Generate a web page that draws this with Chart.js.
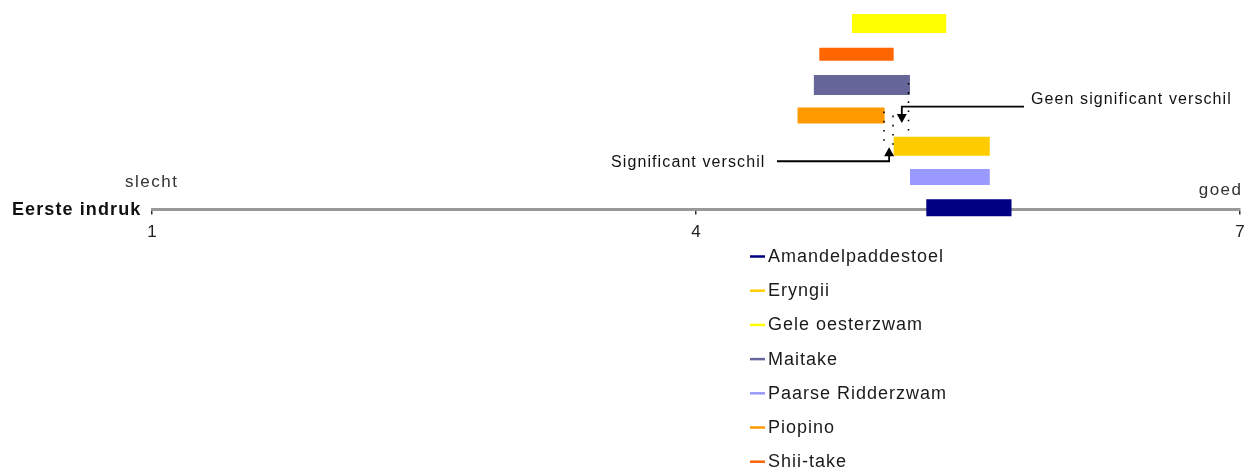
<!DOCTYPE html>
<html>
<head>
<meta charset="utf-8">
<script src="https://cdn.jsdelivr.net/npm/chart.js@4/dist/chart.umd.min.js"></script>
<style>
  html, body { margin: 0; padding: 0; background: #ffffff; }
  #wrap { width: 1250px; height: 475px; position: relative; }
</style>
</head>
<body>
<div id="wrap"><canvas id="c" width="1250" height="475"></canvas></div>
<script>
// ---- data ----
const seriesNames = ['Amandelpaddestoel', 'Eryngii', 'Gele oesterzwam', 'Maitake', 'Paarse Ridderzwam', 'Piopino', 'Shii-take'];
const lowValues  = [5.27, 5.09, 4.86, 4.65, 5.18, 4.56, 4.68];
const highValues = [5.74, 5.62, 5.38, 5.18, 5.62, 5.04, 5.09];
const rowIndex   = [1, 3, 7, 5, 2, 4, 6];
const axisTicks  = [1, 4, 7];
const axisTitle  = 'Eerste indruk';
const lowLabel   = 'slecht';
const highLabel  = 'goed';
const noteNotSig = 'Geen significant verschil';
const noteSig    = 'Significant verschil';

// ---- styles ----
const colors = ['#000080', '#FFCC00', '#FFFF00', '#666699', '#9999FF', '#FF9900', '#FF6600'];
const thickness = [17, 19, 19, 20, 16, 16, 13];
const FONT = "'Liberation Sans', Arial, sans-serif";

const datasets = seriesNames.map((name, i) => ({
  label: name,
  data: [{ x: lowValues[i], y: rowIndex[i] }, { x: highValues[i], y: rowIndex[i] }],
  borderColor: colors[i],
  backgroundColor: colors[i],
  borderWidth: thickness[i],
  borderCapStyle: 'butt',
  pointRadius: 0,
  pointHoverRadius: 0,
  tension: 0,
  clip: false,
  fill: false
}));

function spacedText(ctx, text, x, y, spacing, align) {
  ctx.save();
  ctx.letterSpacing = spacing + 'px';
  let w = ctx.measureText(text).width;
  let left = x;
  if (align === 'right') left = x - (w - spacing);
  ctx.textAlign = 'left';
  ctx.fillText(text, left, y);
  ctx.restore();
}

const decorPlugin = {
  id: 'decor',
  afterDraw(chart) {
    const ctx = chart.ctx;
    const xs = chart.scales.x, ys = chart.scales.y;
    const area = chart.chartArea;
    ctx.save();
    ctx.textBaseline = 'alphabetic';

    // axis title and end labels
    ctx.fillStyle = '#111';
    ctx.font = 'bold 18px ' + FONT;
    spacedText(ctx, axisTitle, 12, area.bottom + 5.5, 1.1, 'left');
    ctx.fillStyle = '#333';
    ctx.font = '17px ' + FONT;
    spacedText(ctx, lowLabel, 125, area.bottom - 22.5, 1.5, 'left');
    spacedText(ctx, highLabel, area.right + 1, area.bottom - 14.5, 1.5, 'right');

    // dotted guide lines
    const iM = seriesNames.indexOf('Maitake');
    const iP = seriesNames.indexOf('Piopino');
    const iE = seriesNames.indexOf('Eryngii');
    const mHi = xs.getPixelForValue(highValues[iM]);
    const pHi = xs.getPixelForValue(highValues[iP]);
    const eLo = xs.getPixelForValue(lowValues[iE]);
    const yM = ys.getPixelForValue(rowIndex[iM]);
    const yP = ys.getPixelForValue(rowIndex[iP]);
    const yE = ys.getPixelForValue(rowIndex[iE]);

    ctx.strokeStyle = '#000';
    ctx.lineWidth = 1.6;
    ctx.setLineDash([1.6, 7.6]);
    ctx.beginPath();
    ctx.moveTo(Math.round(mHi) - 1.5, yM - 2); ctx.lineTo(Math.round(mHi) - 1.5, yE - 10);
    ctx.moveTo(Math.round(pHi) - 1, yP - 4); ctx.lineTo(Math.round(pHi) - 1, yE);
    ctx.moveTo(Math.round(eLo) - 1, yP); ctx.lineTo(Math.round(eLo) - 1, yE + 2);
    ctx.stroke();
    ctx.setLineDash([]);

    // "not significant" arrow
    const ax1 = (mHi + eLo) / 2;
    const hy1 = yP - 9;
    const tip1 = yP + 7.5;
    ctx.lineWidth = 1.8;
    ctx.beginPath();
    ctx.moveTo(1024, hy1); ctx.lineTo(ax1, hy1); ctx.lineTo(ax1, tip1 - 6);
    ctx.stroke();
    ctx.fillStyle = '#000';
    ctx.beginPath();
    ctx.moveTo(ax1 - 5, tip1 - 9); ctx.lineTo(ax1 + 5, tip1 - 9); ctx.lineTo(ax1, tip1);
    ctx.closePath(); ctx.fill();

    // "significant" arrow
    const ax2 = (pHi + eLo) / 2;
    const hy2 = yE + 15;
    const tip2 = yE + 1;
    ctx.beginPath();
    ctx.moveTo(777, hy2); ctx.lineTo(ax2, hy2); ctx.lineTo(ax2, tip2 + 6);
    ctx.stroke();
    ctx.beginPath();
    ctx.moveTo(ax2 - 5, tip2 + 9); ctx.lineTo(ax2 + 5, tip2 + 9); ctx.lineTo(ax2, tip2);
    ctx.closePath(); ctx.fill();

    // annotation texts
    ctx.fillStyle = '#111';
    ctx.font = '16px ' + FONT;
    spacedText(ctx, noteNotSig, 1031, hy1 - 2.5, 1.1, 'left');
    spacedText(ctx, noteSig, 611, hy2 + 5.5, 1.1, 'left');

    // legend (vertical list)
    const lx = 750, ly0 = 262, step = 34.2;
    ctx.font = '18px ' + FONT;
    chart.data.datasets.forEach((ds, i) => {
      const base = ly0 + i * step;
      ctx.strokeStyle = ds.borderColor;
      ctx.lineWidth = 2.5;
      ctx.beginPath();
      ctx.moveTo(lx, base - 5.5); ctx.lineTo(lx + 15, base - 5.5);
      ctx.stroke();
      ctx.fillStyle = '#1a1a1a';
      spacedText(ctx, ds.label, lx + 18, base, 1.0, 'left');
    });
    ctx.restore();
  }
};

new Chart(document.getElementById('c'), {
  type: 'line',
  data: { datasets },
  options: {
    responsive: false,
    animation: false,
    events: [],
    layout: { padding: { left: 152, right: 10, top: 23.5, bottom: 235.5 } },
    plugins: { legend: { display: false }, tooltip: { enabled: false }, title: { display: false } },
    scales: {
      x: {
        type: 'linear',
        position: 'bottom',
        min: 1, max: 7,
        afterBuildTicks: s => { s.ticks = axisTicks.map(v => ({ value: v })); },
        afterFit: s => { s.height = 30; s.paddingLeft = 0; s.paddingRight = 0; },
        ticks: { color: '#222', font: { family: FONT, size: 17 }, padding: 8, maxRotation: 0 },
        grid: { display: true, drawOnChartArea: false, drawTicks: true, tickLength: 5, color: '#333', lineWidth: 1.5 },
        border: { display: true, color: '#999', width: 3 }
      },
      y: {
        type: 'linear',
        display: false,
        min: 0.94, max: 7
      }
    }
  },
  plugins: [decorPlugin]
});
</script>
</body>
</html>
